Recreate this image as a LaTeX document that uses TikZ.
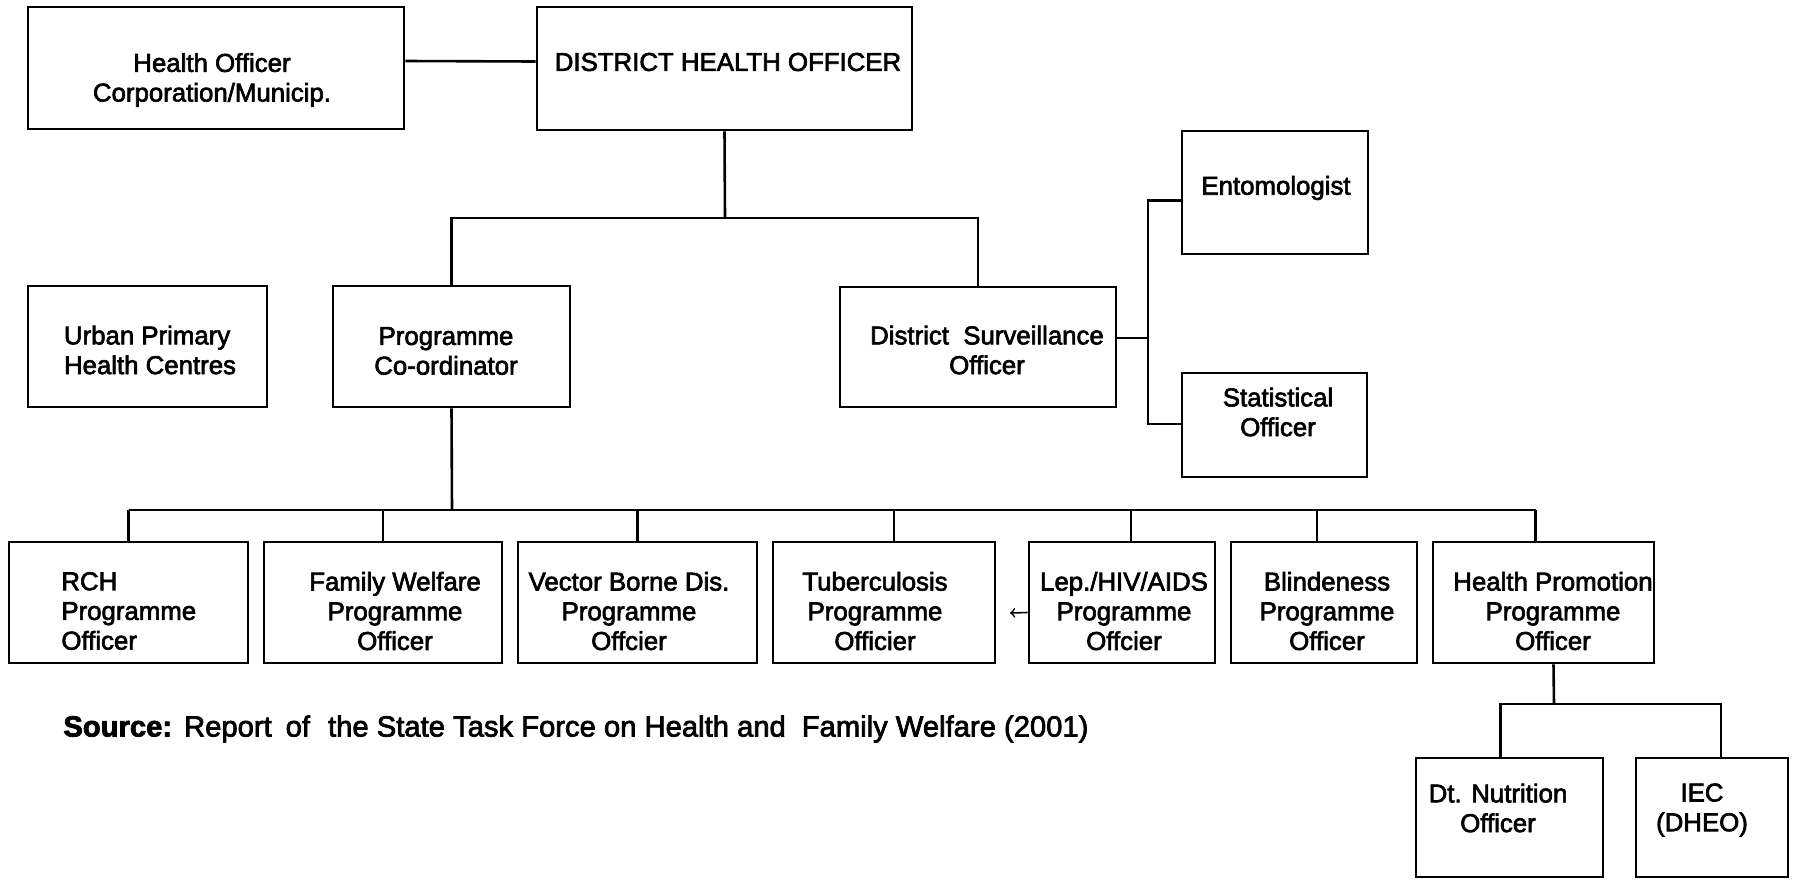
\documentclass[tikz,border=0pt]{standalone}
\usepackage{fontspec}
\setmainfont{Liberation Sans}
\newfontfamily\boxfont{Liberation Sans}[FakeBold=2.5]
\usetikzlibrary{calc,fit}
\begin{document}
\begin{tikzpicture}[x=0.5pt,y=-0.5pt,
  box/.style={draw, line width=1.3pt, inner sep=0pt},
  txt/.style={font=\boxfont\fontsize{12.9}{14.85}\selectfont, inner sep=0pt, align=center},
  wire/.style={line width=1.3pt},
  stub/.style={->, line width=0.8pt}]
\useasboundingbox (0,0) rectangle (1794,879);

% boxes (corners in px, y grows downward)
\node[box, fit={(28,7) (404,129)}]      (ho)   {};
\node[box, fit={(537,7) (912,130)}]     (dho)  {};
\node[box, fit={(28,286) (267,407)}]    (upc)  {};
\node[box, fit={(333,286) (570,407)}]   (pc)   {};
\node[box, fit={(840,287) (1116,407)}]  (dso)  {};
\node[box, fit={(1182,131) (1368,254)}] (ent)  {};
\node[box, fit={(1182,373) (1367,477)}] (stat) {};
\node[box, fit={(9,542) (248,663)}]     (rch)  {};
\node[box, fit={(264,542) (502,663)}]   (fw)   {};
\node[box, fit={(518,542) (757,663)}]   (vbd)  {};
\node[box, fit={(773,542) (995,663)}]   (tb)   {};
\node[box, fit={(1029,542) (1215,663)}] (lep)  {};
\node[box, fit={(1231,542) (1417,663)}] (bl)   {};
\node[box, fit={(1433,542) (1654,663)}] (hp)   {};
\node[box, fit={(1416,758) (1603,877)}] (dn)   {};
\node[box, fit={(1636,758) (1788,877)}] (iec)  {};

% box texts
\node[txt] (ho-t)  at (212,80)  {Health Officer\\Corporation/Municip.};
\node[txt] (dho-t) at (728,62)  {DISTRICT HEALTH OFFICER};
\node[txt, align=left] (upc-t) at (150,350) {Urban Primary\\Health Centres};
\node[txt] (pc-t)  at (446,351) {Programme\\Co-ordinator};
\node[txt] (dso-t) at (987,350) {District\ \ Surveillance\\Officer};
\node[txt] (ent-t) at (1276,188) {Entomologist};
\node[txt] (stat-t) at (1278,412) {Statistical\\Officer};
\node[txt, align=left, anchor=west] (rch-t) at (61,611) {RCH\\Programme\\Officer};
\node[txt] (fw-t)  at (395,611)  {Family Welfare\\Programme\\Officer};
\node[txt] (vbd-t) at (629,611)  {Vector Borne Dis.\\Programme\\Offcier};
\node[txt] (tb-t)  at (875,611)  {Tuberculosis\\Programme\\Officier};
\node[txt] (lep-t) at (1124,611) {Lep./HIV/AIDS\\Programme\\Offcier};
\node[txt] (bl-t)  at (1327,611) {Blindeness\\Programme\\Officer};
\node[txt] (hp-t)  at (1553,611) {Health Promotion\\Programme\\Officer};
\node[txt] (dn-t)  at (1498,808) {Dt. Nutrition\\Officer};
\node[txt] (iec-t) at (1702,810) {IEC\\(DHEO)};

% source line
\node[txt, font=\boxfont\fontsize{14.6}{16}\selectfont, anchor=west] (src) at (63,729)
  {\textbf{Source:}\hspace{6pt}Report\hspace{7pt}of\hspace{9pt}the State Task Force on Health and\hspace{8pt}Family Welfare (2001)};

% top level links
\draw[wire] ($(ho.east)+(0,-7)$) -- ($(dho.west)+(0,-7)$);
\coordinate (busA) at (725,218);
\draw[wire] (dho.south) -- (busA);
\draw[wire] (pc.north) |- (busA) -| (dso.north);

% surveillance branch
\coordinate (dsoj) at (1148,338);
\draw[wire] ($(dso.east)+(0,-9)$) -- (dsoj);
\draw[wire] ($(ent.west)+(0,8)$) -| (dsoj) |- ($(stat.west)+(0,-1)$);

% programme officers
\coordinate (busB) at (452,510);
\draw[wire] (pc.south) -- (busB);
\draw[wire] (rch.north |- busB) -- ($(hp.north |- busB)+(-8,0)$);
\draw[wire] (rch.north) -- (rch.north |- busB);
\draw[wire] (fw.north) -- (fw.north |- busB);
\draw[wire] (vbd.north) -- (vbd.north |- busB);
\draw[wire] ($(tb.north)+(10,0)$) -- ($(tb.north |- busB)+(10,0)$);
\draw[wire] ($(lep.north)+(9,0)$) -- ($(lep.north |- busB)+(9,0)$);
\draw[wire] ($(bl.north)+(-7,0)$) -- ($(bl.north |- busB)+(-7,0)$);
\draw[wire] ($(hp.north)+(-8,0)$) -- ($(hp.north |- busB)+(-8,0)$);

% health promotion branch
\coordinate (busC) at (1554,704);
\draw[wire] ($(hp.south)+(10,0)$) -- (busC);
\draw[wire] ($(dn.north)+(-9,0)$) |- (busC) -| ($(iec.north)+(9,0)$);

% small pointer beside Lep./HIV/AIDS
\coordinate (lepstub) at (1010,613);
\draw[stub] ($(lep.west)+(0,10)$) -- (lepstub);
\end{tikzpicture}
\end{document}
